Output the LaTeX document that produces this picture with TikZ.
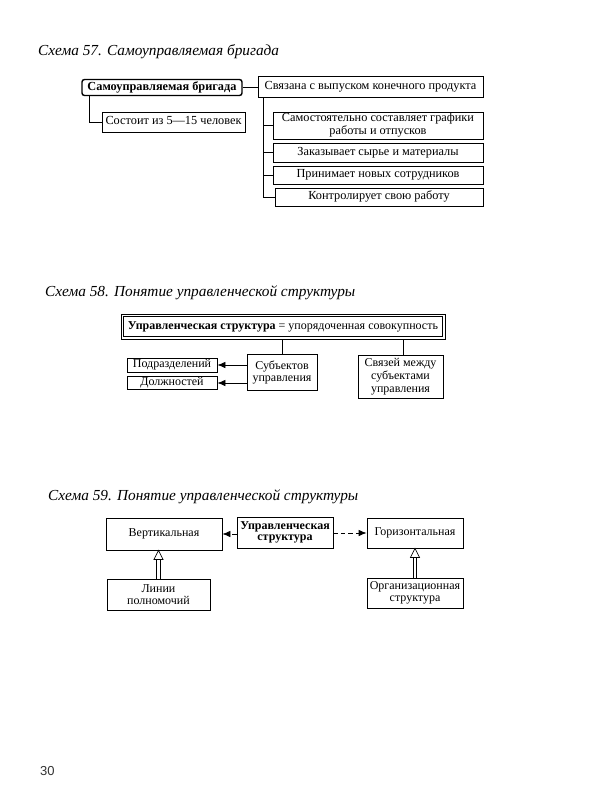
\documentclass[tikz,border=0pt]{standalone}
\usepackage{fontspec}
\setmainfont{Liberation Serif}
\newfontfamily\pagefont{Liberation Sans}
\usetikzlibrary{arrows.meta,calc}
\begin{document}
\begin{tikzpicture}[x=1pt,y=-1pt,
 box/.style={draw, line width=0.75pt, inner sep=1pt, align=center, font=\fontsize{12.3}{13}\selectfont},
 one/.style={text height=0.68em, text depth=0.18em},
 boxb/.style={box, font=\fontsize{12}{12.8}\selectfont},
 boxc/.style={box, font=\fontsize{12}{12.5}\selectfont},
 captxt/.style={anchor=west, inner sep=0pt, font=\fontsize{15.3}{17}\selectfont\itshape},
 con/.style={line width=0.75pt},
 arr/.style={line width=0.75pt, -{Latex[length=8pt,width=6.5pt]}},
 darr/.style={arr, dash pattern=on 4.5pt off 3pt}]
\useasboundingbox (0,0) rectangle (600,800);

% ---------- Schema 57 ----------
\node[captxt] (c57) at (38,52) {Схема 57. Самоуправляемая бригада};
\node[box, one, line width=1.4pt, rounded corners=2.5pt, minimum width=160pt, minimum height=16pt, font=\fontsize{12.3}{13}\selectfont\bfseries] (main) at (162,87.5) {Самоуправляемая бригада};
\node[box, one, minimum width=143pt, minimum height=20pt] (sost) at (173.5,122) {Состоит из 5---15 человек};
\node[box, one, minimum width=225pt, minimum height=21pt] (sv) at (370.5,86.5) {Связана с выпуском конечного продукта};
\node[box, minimum width=210pt, minimum height=27pt] (b1) at (378,125.5) {Самостоятельно составляет графики\\работы и отпусков};
\node[box, one, minimum width=210pt, minimum height=19pt] (b2) at (378,152.5) {Заказывает сырье и материалы};
\node[box, one, minimum width=210pt, minimum height=18pt] (b3) at (378,175) {Принимает новых сотрудников};
\node[box, one, minimum width=208pt, minimum height=18pt] (b4) at (379,197) {Контролирует свою работу};
\coordinate (lt) at (89,97);
\draw[con] (main.east) -- (sv.west |- main.east);
\draw[con] (main.south -| lt) |- (sost.west);
\coordinate (rt) at (263,97);
\draw[con] (sv.south -| rt) |- (b4.west);
\draw[con] (rt |- b1.west) -- (b1.west);
\draw[con] (rt |- b2.west) -- (b2.west);
\draw[con] (rt |- b3.west) -- (b3.west);

% ---------- Schema 58 ----------
\node[captxt] (c58) at (45,293) {Схема 58. Понятие управленческой структуры};
\node[boxb, one, minimum width=324pt, minimum height=25pt] (top) at (283,326.5) {\textbf{Управленческая структура} = упорядоченная совокупность};
\draw[line width=0.6pt] ($(top.north west)+(2.8,2.8)$) rectangle ($(top.south east)+(-2.8,-2.8)$);
\node[boxb, minimum width=70pt, minimum height=36pt] (sub) at (282,372.5) {Субъектов\\управления};
\node[boxb, minimum width=85pt, minimum height=43pt] (svz) at (400.5,376.5) {Связей между\\субъектами\\управления};
\node[boxb, one, minimum width=90pt, minimum height=14pt, inner sep=0pt] (pod) at (172,365) {Подразделений};
\node[boxb, one, minimum width=90pt, minimum height=13pt, inner sep=0pt] (dol) at (172,383) {Должностей};
\draw[con] (top.south -| sub.north) -- (sub.north);
\coordinate (sx) at (403,0);
\draw[con] (top.south -| sx) -- (svz.north -| sx);
\draw[arr] (sub.west |- pod.east) -- (pod.east);
\draw[arr] (sub.west |- dol.east) -- (dol.east);

% ---------- Schema 59 ----------
\node[captxt] (c59) at (48,497) {Схема 59. Понятие управленческой структуры};
\node[boxc, one, minimum width=116pt, minimum height=32pt] (vert) at (164,534) {Вертикальная};
\node[box, minimum width=96pt, minimum height=31pt, font=\fontsize{12}{11.5}\selectfont\bfseries] (upr) at (285,532.5) {Управленческая\\структура};
\node[boxc, one, minimum width=96pt, minimum height=30pt] (hor) at (415,533) {Горизонтальная};
\node[boxc, minimum width=103pt, minimum height=31pt] (lin) at (158.5,594.5) {Линии\\полномочий};
\node[boxc, minimum width=96pt, minimum height=30pt] (org) at (415,593) {Организационная\\структура};
\draw[darr] (upr.west |- vert.east) -- (vert.east);
\draw[darr] (upr.east |- hor.west) -- (hor.west);
% hollow double arrows
\foreach \lo/\hi in {lin/vert, org/hor} {
  \coordinate (t) at (\lo.north |- \hi.south);
  \draw[con] ($(\lo.north)+(-1.8,0)$) -- ($(t)+(-1.8,9)$);
  \draw[con] ($(\lo.north)+(1.8,0)$) -- ($(t)+(1.8,9)$);
  \draw[con, fill=white, line join=miter] ($(t)+(-4.5,9)$) -- (t) -- ($(t)+(4.5,9)$) -- cycle;
}

\node[anchor=west, inner sep=0pt, font=\pagefont\fontsize{13}{14}\selectfont, text=black!80] (pg) at (40,771) {30};
\end{tikzpicture}
\end{document}
